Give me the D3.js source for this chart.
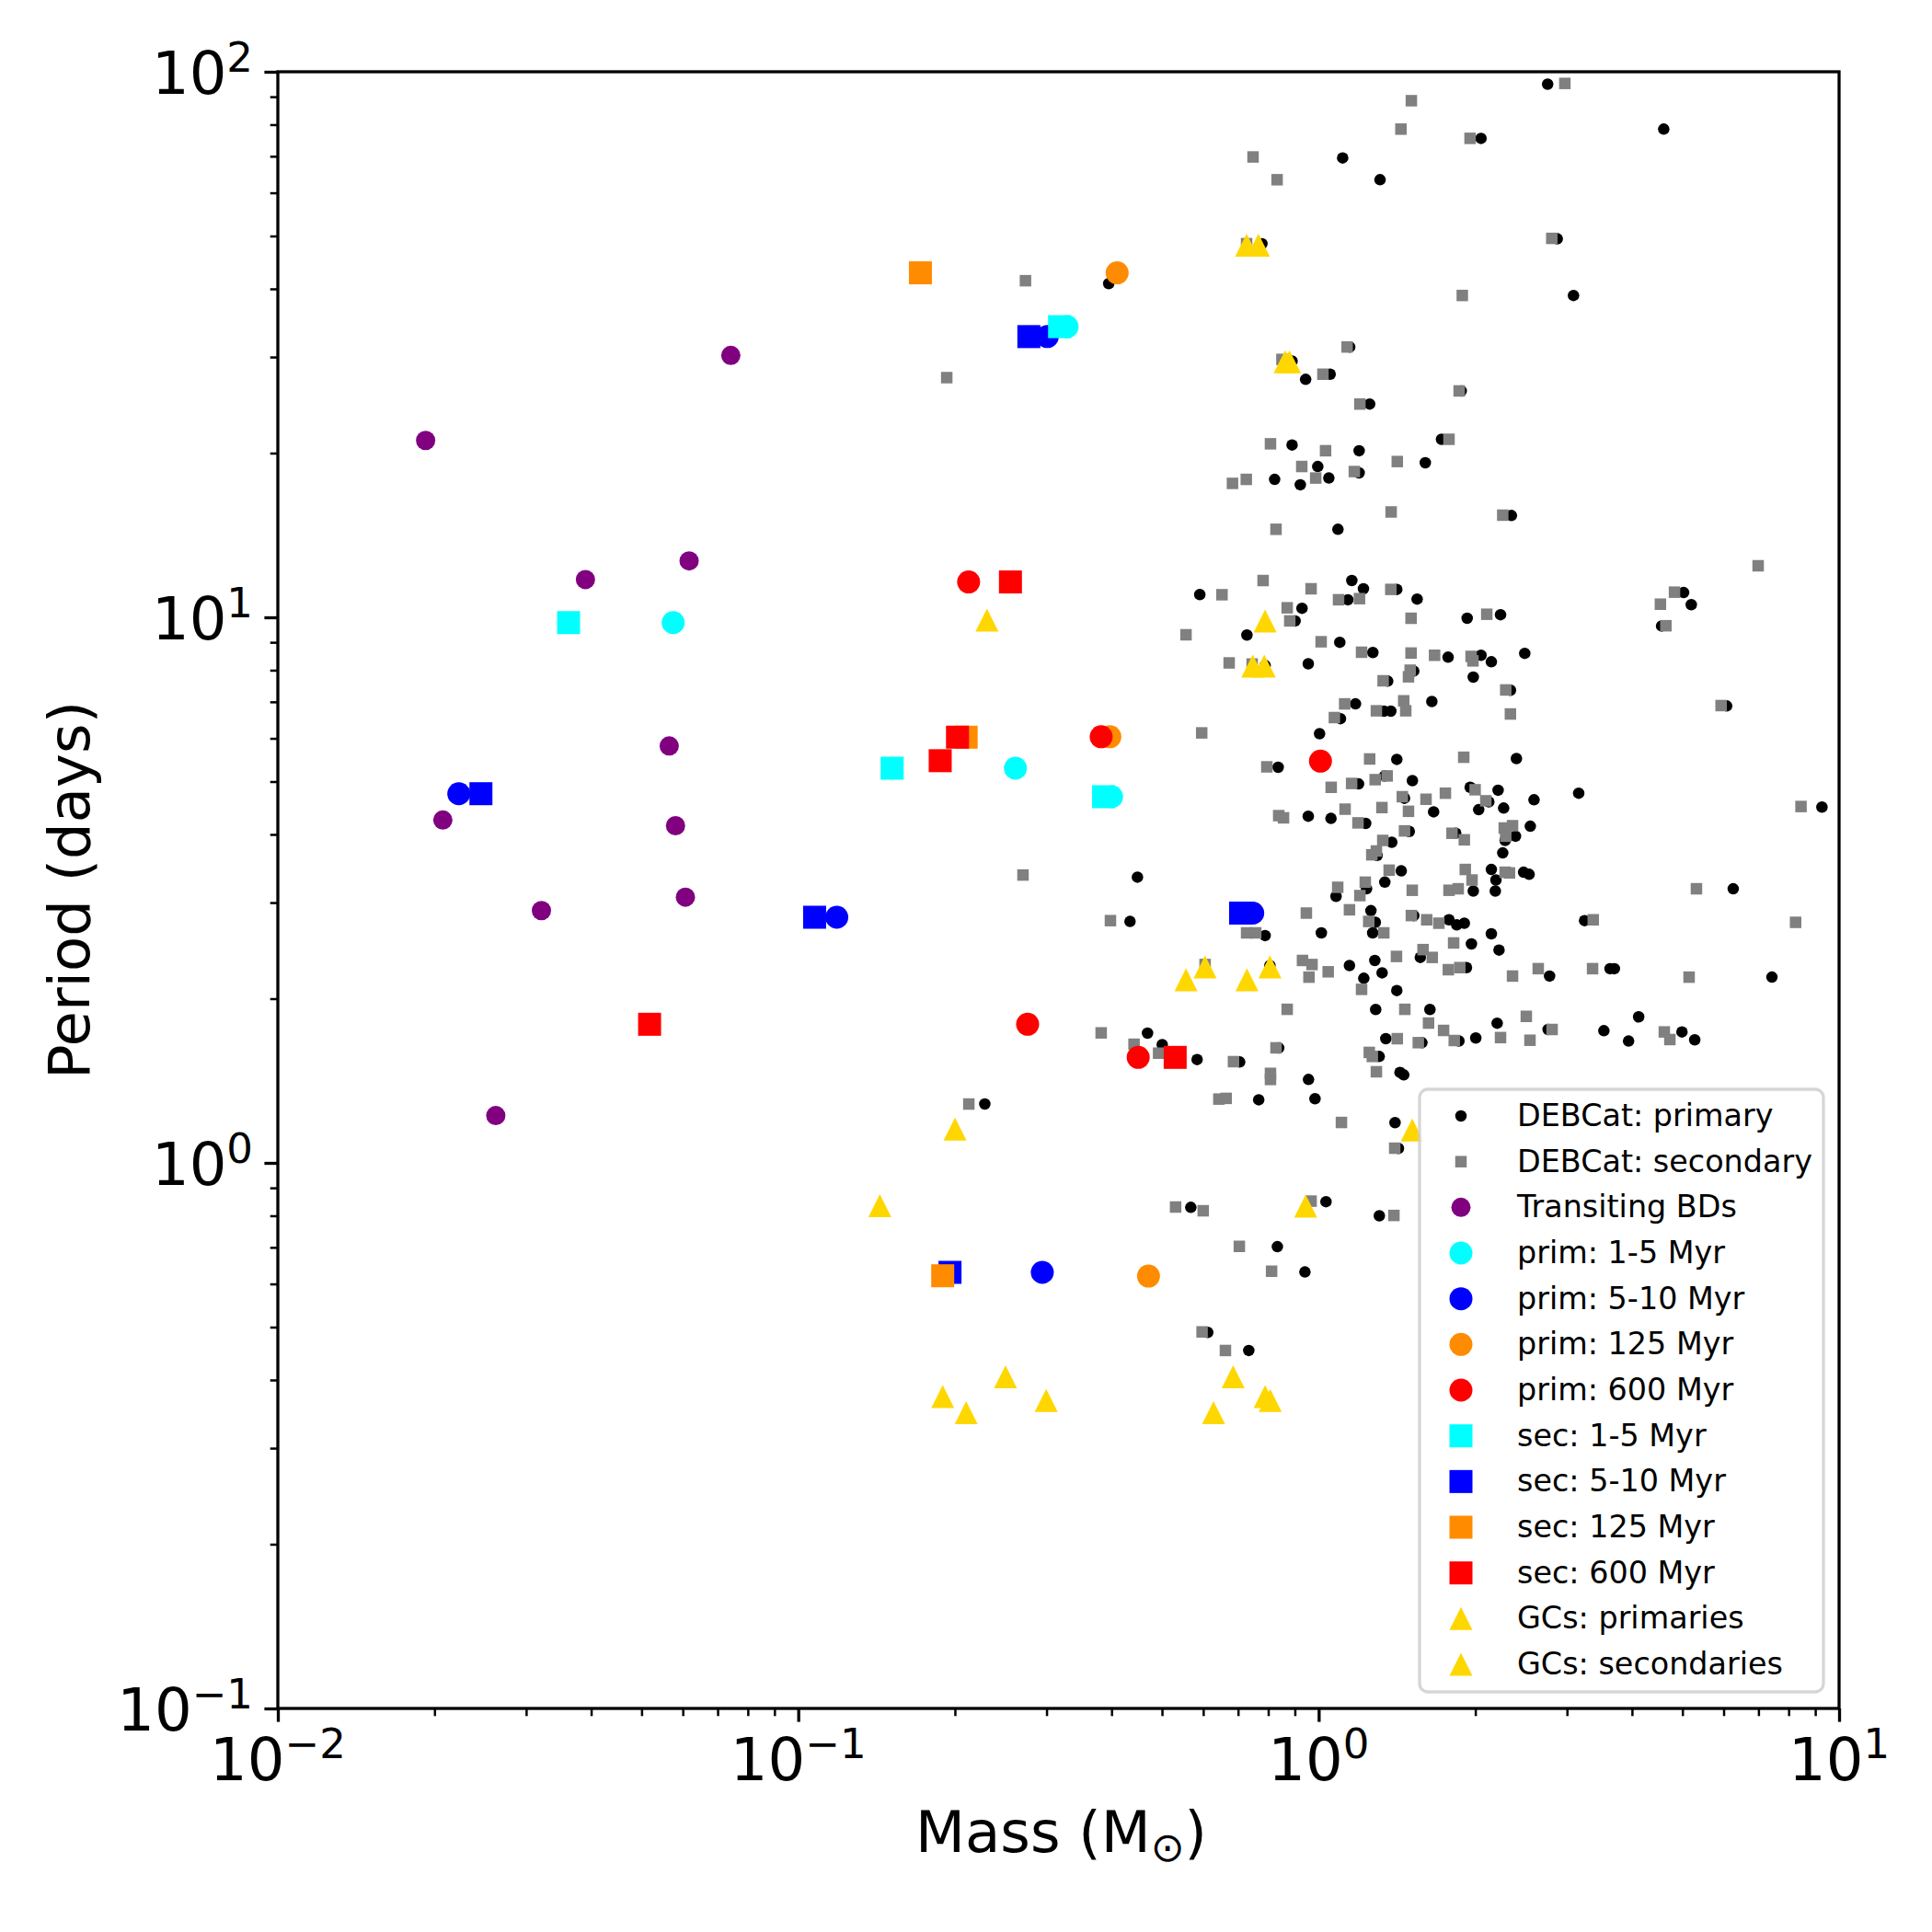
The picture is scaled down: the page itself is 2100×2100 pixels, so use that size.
<!DOCTYPE html>
<html><head><meta charset="utf-8">
<script src="https://cdn.jsdelivr.net/npm/d3@7"></script>
<style>html,body{margin:0;padding:0;background:#fff} svg{display:block}</style>
</head><body>
<svg id="chart" width="2100" height="2100"></svg>
<script>
// ---------------- DATA ----------------
const debPrimMass = [2.051,1.112,1.312,0.395,1.147,0.889,0.778,0.944,1.052,1.879,1.253,0.889,1.196,1.722,1.603,0.996,0.823,0.922,1.046,1.196,
2.754,4.603,2.874,3.088,1.089,1.158,0.591,1.219,1.413,1.546,1.138,0.929,0.901,1.929,0.728,1.098,1.271,1.773,0.789,0.955,
1.523,1.357,1.177,1.650,1.335,1.376,1.101,1.004,1.413,0.836,1.193,1.339,1.514,1.955,1.462,0.955,1.056,1.663,1.231,1.493,
1.834,1.382,1.295,1.441,0.4485,1.236,1.340,1.080,0.434,1.260,1.285,1.523,1.780,1.842,1.905,0.789,1.012,1.270,2.346,5.027,
5.20,4.560,2.236,2.051,2.147,2.489,1.982,2.336,6.08,2.399,2.212,2.123,2.030,2.267,2.593,3.160,9.27,2.389,2.282,2.551,
2.258,2.147,2.476,2.537,2.191,1.982,2.185,6.26,3.243,2.147,0.806,1.146,1.282,1.221,1.324,1.413,1.568,1.923,1.287,1.636,
1.860,1.346,1.579,0.469,0.5005,0.584,0.838,0.705,0.956,1.307,1.433,1.457,0.767,0.984,1.402,1.423,0.568,1.033,1.308,0.833,
0.941,0.612,0.734,1.966,2.221,2.778,3.63,3.70,7.43,2.203,4.12,2.004,2.760,3.532,3.94,4.99,5.28,0.2283];
const debPrimPeriod = [75.5,69.5,63.4,40.9,31.3,29.5,48.4,27.3,27.9,26.0,24.6,20.7,20.2,21.2,19.2,18.9,17.9,17.5,18.0,18.4,
94.9,78.5,49.4,38.9,14.5,11.68,11.01,11.28,11.25,10.80,10.77,10.39,9.85,9.96,9.28,9.00,8.62,8.45,8.16,8.22,
7.97,7.64,6.94,7.01,6.73,6.73,6.52,6.12,5.49,5.31,4.95,5.12,5.02,4.88,4.66,4.32,4.28,4.40,4.19,4.05,
4.02,3.87,3.66,3.43,3.34,3.18,3.27,3.08,2.77,2.90,2.76,2.84,2.79,2.73,2.75,2.61,2.64,2.64,15.37,11.10,
10.55,9.64,10.11,8.52,8.29,8.59,7.77,7.35,6.88,5.51,4.82,4.59,4.44,4.47,4.63,4.76,4.49,3.97,3.90,4.14,
3.70,3.45,3.41,3.38,3.30,3.15,3.15,3.18,2.78,2.63,2.30,2.30,2.35,2.18,2.23,2.07,2.38,2.28,1.911,1.911,
1.673,1.689,1.661,1.729,1.647,1.547,1.624,1.531,1.422,1.567,1.465,1.450,1.305,1.311,1.185,1.063,0.829,0.849,0.800,0.702,
0.631,0.489,0.453,2.52,2.455,2.20,2.27,2.27,2.19,1.803,1.852,1.694,1.756,1.747,1.672,1.738,1.681,1.282];

const debSecMass = [1.507,1.439,1.954,0.748,0.832,1.888,1.134,0.850,0.727,1.019,1.862,1.200,0.808,1.031,1.780,1.416,0.928,0.726,0.683,0.987,
1.171,1.378,2.972,2.805,0.828,0.782,0.652,0.967,1.376,1.092,1.198,0.870,0.880,1.505,0.556,1.011,1.209,1.505,1.670,0.673,
0.745,1.499,1.488,1.330,1.122,1.457,1.291,1.470,1.072,0.596,1.253,1.900,0.795,1.057,1.157,1.284,1.354,1.752,1.448,1.608,
0.838,0.856,1.124,1.323,1.488,1.190,1.462,1.804,1.905,1.328,1.291,1.265,1.366,1.913,1.088,1.229,1.200,1.513,1.780,1.854,
0.398,0.947,1.146,1.248,1.507,1.613,1.702,0.727,0.757,1.334,2.258,6.99,4.828,4.536,4.647,2.104,1.963,1.979,2.288,2.336,
5.933,1.998,2.095,8.45,2.273,2.358,2.288,2.282,2.326,1.971,5.32,3.37,8.25,0.605,0.931,0.971,0.958,1.043,1.209,1.411,
1.587,1.653,1.775,1.867,1.817,0.870,1.464,1.626,1.738,1.822,1.416,1.554,0.382,0.4418,0.4925,0.828,0.686,0.808,0.808,1.251,
1.268,1.291,0.643,0.664,1.106,1.400,0.531,0.600,0.967,1.395,0.704,0.812,0.597,0.662,2.358,2.642,3.36,5.15,2.506,2.236,
2.547,2.809,4.615,4.73,0.2733,0.1929,0.2703,0.2127];
const debSecPeriod = [88.5,78.5,75.5,69.8,63.4,38.9,31.3,29.7,48.4,27.9,26.0,24.6,20.8,20.2,21.2,19.3,18.9,17.9,17.6,18.0,
18.5,15.6,95.2,49.5,14.5,11.68,11.0,11.28,11.25,10.77,10.82,10.41,9.85,9.96,9.29,9.02,8.63,8.60,8.52,8.25,
8.21,8.00,7.78,7.65,6.94,7.03,6.74,6.74,6.55,6.14,5.50,5.54,5.32,4.88,4.96,5.04,5.12,4.76,4.69,4.64,
4.33,4.29,4.45,4.48,4.41,4.20,4.06,4.02,3.91,3.90,3.73,3.67,3.44,3.45,3.20,3.27,3.09,3.16,3.16,3.18,
2.78,2.87,2.91,2.77,2.84,2.79,2.75,2.64,2.64,2.64,15.39,12.43,11.12,10.57,9.65,10.13,8.48,8.32,7.36,6.65,
6.89,4.83,4.61,4.50,4.11,4.15,3.97,3.41,3.40,3.30,3.18,2.79,2.76,2.31,2.35,2.31,2.19,2.24,2.08,2.39,
2.46,2.38,2.26,2.28,2.53,1.912,1.912,1.804,1.749,1.676,1.689,1.661,1.731,1.650,1.589,1.625,1.533,1.459,1.422,1.594,
1.567,1.469,1.309,1.313,1.186,1.064,0.830,0.817,0.851,0.801,0.703,0.633,0.490,0.453,2.20,2.27,2.27,2.19,1.856,1.697,
1.678,1.756,1.738,1.683,41.4,27.5,3.37,1.282];

const bdMass   = [0.01923,0.0742,0.0390,0.0617,0.0565,0.02075,0.0581,0.0607,0.0321,0.02623];
const bdPeriod = [21.1,30.2,11.73,12.69,5.81,4.25,4.15,3.07,2.90,1.221];

const prim1to5Mass = [0.0575,0.2614,0.400,0.3285];
const prim1to5Period = [9.78,5.29,4.69,34.1];
const prim5to10Mass = [0.02227,0.1186,0.301,0.747,0.2944];
const prim5to10Period = [4.75,2.82,32.7,2.87,0.630];
const prim125Mass = [0.410,0.397,0.471];
const prim125Period = [42.8,6.04,0.620];
const prim600Mass = [0.2125,0.382,1.008,0.2759,0.450];
const prim600Period = [11.61,6.04,5.45,1.795,1.561];

const sec1to5Mass = [0.0362,0.1515,0.386,0.3178];
const sec1to5Period = [9.78,5.29,4.69,34.1];
const sec5to10Mass = [0.02456,0.1075,0.2774,0.708,0.1957];
const sec5to10Period = [4.75,2.82,32.7,2.87,0.630];
const sec125Mass = [0.1717,0.2102,0.1895];
const sec125Period = [42.8,6.03,0.621];
const sec600Mass = [0.2557,0.2023,0.1874,0.0518,0.530];
const sec600Period = [11.61,6.03,5.46,1.795,1.561];

const gcPrimMass = [0.766,0.879,0.789,0.786,0.806,0.728,1.513,0.944,0.789,0.628,0.685,0.807];
const gcPrimPeriod = [48.1,29.4,9.85,8.14,2.287,2.166,1.149,0.833,0.373,0.3485,0.4054,0.367];
const gcSecMass = [0.727,0.862,0.2305,0.747,0.605,0.556,0.2001,0.1435,0.1895,0.2102,0.2502,0.2995];
const gcSecPeriod = [48.1,29.4,9.88,8.14,2.287,2.166,1.153,0.835,0.373,0.3485,0.4054,0.367];

const xMajorTicks = [0.01,0.1,1,10];
const xTickExponents = ["\u22122","\u22121","0","1"];
const yMajorTicks = [0.1,1,10,100];
const yTickExponents = ["\u22121","0","1","2"];

// ---------------- CHART ----------------
const FONT = "DejaVu Sans, Liberation Sans, sans-serif";
const L = 302, R = 1999, T = 78, B = 1857;
const svg = d3.select("#chart");
svg.append("rect").attr("width",2100).attr("height",2100).attr("fill","#fff");

const x = d3.scaleLog().domain([0.01,10]).range([L,R]);
const y = d3.scaleLog().domain([0.1,100]).range([B,T]);

// triangle like matplotlib '^' (width = height = side)
const triUp = { draw(ctx, size){ const h = Math.sqrt(size)/2; ctx.moveTo(0,-h); ctx.lineTo(h,h); ctx.lineTo(-h,h); ctx.closePath(); } };
function symbolPath(shape, d){
  if (shape === "circle") return d3.symbol().type(d3.symbolCircle).size(Math.PI*d*d/4)();
  if (shape === "square") return d3.symbol().type(d3.symbolSquare).size(d*d)();
  return d3.symbol().type(triUp).size(d*d)();
}

const series = [
  {label:"DEBCat: primary",   m:debPrimMass,   p:debPrimPeriod,   color:"#000000", shape:"circle", d:12.5},
  {label:"DEBCat: secondary", m:debSecMass,    p:debSecPeriod,    color:"#808080", shape:"square", d:12.5},
  {label:"Transiting BDs",    m:bdMass,        p:bdPeriod,        color:"#800080", shape:"circle", d:21},
  {label:"prim: 1-5 Myr",     m:prim1to5Mass,  p:prim1to5Period,  color:"#00ffff", shape:"circle", d:25},
  {label:"prim: 5-10 Myr",    m:prim5to10Mass, p:prim5to10Period, color:"#0000ff", shape:"circle", d:25},
  {label:"prim: 125 Myr",     m:prim125Mass,   p:prim125Period,   color:"#ff8c00", shape:"circle", d:25},
  {label:"prim: 600 Myr",     m:prim600Mass,   p:prim600Period,   color:"#ff0000", shape:"circle", d:25},
  {label:"sec: 1-5 Myr",      m:sec1to5Mass,   p:sec1to5Period,   color:"#00ffff", shape:"square", d:25},
  {label:"sec: 5-10 Myr",     m:sec5to10Mass,  p:sec5to10Period,  color:"#0000ff", shape:"square", d:25},
  {label:"sec: 125 Myr",      m:sec125Mass,    p:sec125Period,    color:"#ff8c00", shape:"square", d:25},
  {label:"sec: 600 Myr",      m:sec600Mass,    p:sec600Period,    color:"#ff0000", shape:"square", d:25},
  {label:"GCs: primaries",    m:gcPrimMass,    p:gcPrimPeriod,    color:"#ffd700", shape:"tri",    d:25},
  {label:"GCs: secondaries",  m:gcSecMass,     p:gcSecPeriod,     color:"#ffd700", shape:"tri",    d:25}
];

// points
const plot = svg.append("g");
series.forEach(s => {
  const pts = s.m.map((v,i) => ({m:v, p:s.p[i]}));
  plot.append("g").selectAll("path").data(pts).join("path")
    .attr("d", symbolPath(s.shape, s.d))
    .attr("transform", d => `translate(${x(d.m)},${y(d.p)})`)
    .attr("fill", s.color);
});

// ticks (d3 axes)
const minorX = x.ticks().filter(v => !xMajorTicks.some(t => Math.abs(t-v)/t < 1e-9));
const minorY = y.ticks().filter(v => !yMajorTicks.some(t => Math.abs(t-v)/t < 1e-9));
function styleAxis(g, w){ g.select(".domain").remove(); g.selectAll("line").attr("stroke","#000").attr("stroke-width",w); g.selectAll("text").remove(); }
svg.append("g").attr("transform",`translate(0,${B})`)
  .call(d3.axisBottom(x).tickValues(xMajorTicks).tickSize(14.6).tickSizeOuter(0)).call(g=>styleAxis(g,3.3));
svg.append("g").attr("transform",`translate(0,${B})`)
  .call(d3.axisBottom(x).tickValues(minorX).tickSize(8.3).tickSizeOuter(0)).call(g=>styleAxis(g,2.5));
svg.append("g").attr("transform",`translate(${L},0)`)
  .call(d3.axisLeft(y).tickValues(yMajorTicks).tickSize(14.6).tickSizeOuter(0)).call(g=>styleAxis(g,3.3));
svg.append("g").attr("transform",`translate(${L},0)`)
  .call(d3.axisLeft(y).tickValues(minorY).tickSize(8.3).tickSizeOuter(0)).call(g=>styleAxis(g,2.5));

// frame
svg.append("rect").attr("x",L).attr("y",T).attr("width",R-L).attr("height",B-T)
  .attr("fill","none").attr("stroke","#000").attr("stroke-width",3.3);

// tick labels
const TF = 64, SF = 45, SUP = 24;
xMajorTicks.forEach((t,i) => {
  const tx = svg.append("text").attr("x", x(t)).attr("y", 1935).attr("text-anchor","middle")
    .attr("font-family",FONT).attr("font-size",TF).attr("fill","#000");
  tx.append("tspan").text("10");
  tx.append("tspan").attr("font-size",SF).attr("dy",-SUP).text(xTickExponents[i]);
});
yMajorTicks.forEach((t,i) => {
  const tx = svg.append("text").attr("x", 275).attr("y", y(t)+24).attr("text-anchor","end")
    .attr("font-family",FONT).attr("font-size",TF).attr("fill","#000");
  tx.append("tspan").text("10");
  tx.append("tspan").attr("font-size",SF).attr("dy",-SUP).text(yTickExponents[i]);
});

// axis labels
const xl = svg.append("text").attr("x",(L+R)/2 + 3).attr("y",2013).attr("text-anchor","middle")
  .attr("font-family",FONT).attr("font-size",62.5).attr("fill","#000");
xl.append("tspan").text("Mass (M");
xl.append("tspan").attr("font-size",44).attr("dy",10).text("\u2299");
xl.append("tspan").attr("dy",-10).text(")");
svg.append("text").attr("transform",`translate(97,${(T+B)/2}) rotate(-90)`).attr("text-anchor","middle")
  .attr("font-family",FONT).attr("font-size",62.5).attr("fill","#000").text("Period (days)");

// legend
const lg = svg.append("g");
lg.append("rect").attr("x",1543).attr("y",1184).attr("width",439).attr("height",655).attr("rx",9)
  .attr("fill","#fff").attr("fill-opacity",0.8).attr("stroke","#cccccc").attr("stroke-opacity",0.8).attr("stroke-width",3.3);
series.forEach((s,i) => {
  const cy = 1213 + i*49.67;
  lg.append("path").attr("d", symbolPath(s.shape, s.d)).attr("transform",`translate(1588,${cy})`).attr("fill", s.color);
  lg.append("text").attr("x",1649).attr("y",cy+11).attr("font-family",FONT).attr("font-size",33.4).attr("fill","#000").text(s.label);
});
</script>
</body></html>
